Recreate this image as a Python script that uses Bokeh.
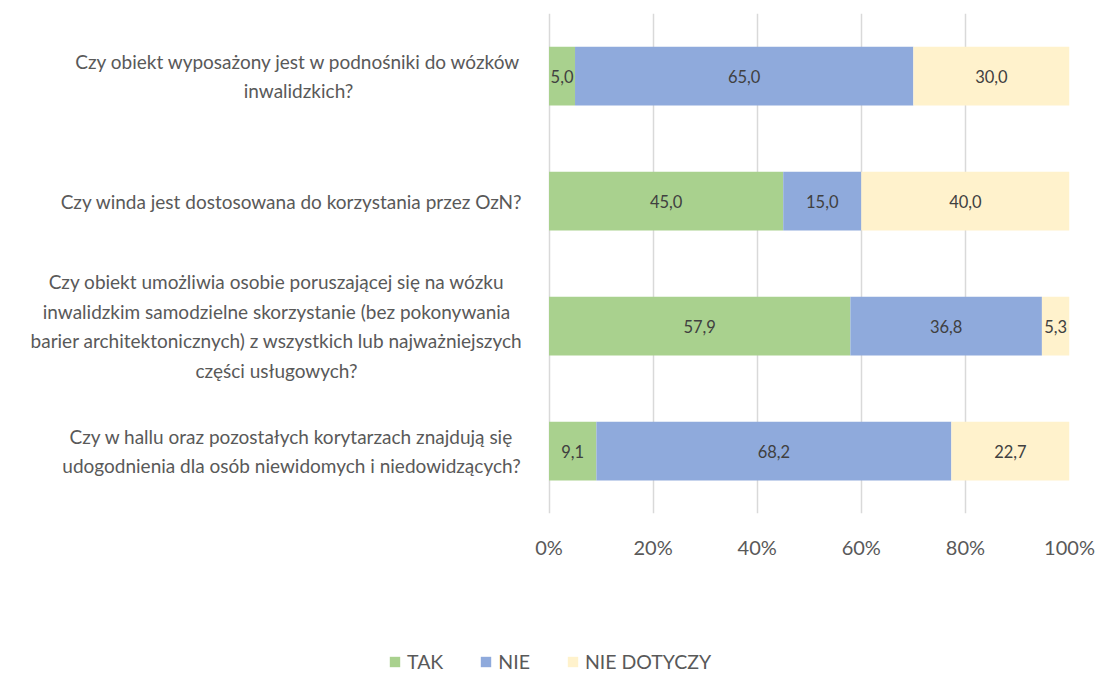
from bokeh.plotting import figure
from bokeh.layouts import column
from bokeh.models import ColumnDataSource, FactorRange, Range1d, FixedTicker, NumeralTickFormatter, Legend, LegendItem, LabelSet
from bokeh.core.properties import value
from bokeh.embed import file_html
from bokeh.resources import INLINE

categories = [
    "Czy obiekt wyposażony jest w podnośniki do wózków\ninwalidzkich?",
    "Czy winda jest dostosowana do korzystania przez OzN?",
    "Czy obiekt umożliwia osobie poruszającej się na wózku\ninwalidzkim samodzielne skorzystanie (bez pokonywania\nbarier architektonicznych) z wszystkich lub najważniejszych\nczęści usługowych?",
    "Czy w hallu oraz pozostałych korytarzach znajdują się\nudogodnienia dla osób niewidomych i niedowidzących?",
]
series_names = ["TAK", "NIE", "NIE DOTYCZY"]
tak = [5.0, 45.0, 57.9, 9.1]
nie = [65.0, 15.0, 36.8, 68.2]
nie_dotyczy = [30.0, 40.0, 5.3, 22.7]
tick_values = [0, 0.2, 0.4, 0.6, 0.8, 1.0]
colors = ["#A9D18E", "#8FAADC", "#FFF2CC"]

# layout / style (screen pixels)
FONT = "Lato"
W = 1099
H_MAIN, H_LEG = 580, 93
FRAME_LEFT = 28
ZERO_PX, FULL_PX = 548.5, 1069.0          # where 0 % and 100 % sit
label_centers_px = [298, 291, 276, 291]   # horizontal centre of each category text block

px_per_unit = FULL_PX - ZERO_PX
x_start = (FRAME_LEFT - ZERO_PX) / px_per_unit

src = ColumnDataSource(dict(
    cat=categories,
    tak=[v / 100 for v in tak],
    nie=[v / 100 for v in nie],
    nd=[v / 100 for v in nie_dotyczy],
    lx=[(c - ZERO_PX) / px_per_unit for c in label_centers_px],
))

p = figure(
    width=W, height=H_MAIN,
    y_range=FactorRange(*reversed(categories), range_padding=0, factor_padding=0),
    x_range=Range1d(x_start, 1),
    output_backend="svg", toolbar_location=None,
    min_border_left=FRAME_LEFT, min_border_right=int(W - FULL_PX), min_border_top=13,
    min_border_bottom=H_MAIN - 513,
)
p.outline_line_color = None

renderers = p.hbar_stack(["tak", "nie", "nd"], y="cat", height=0.47, color=colors,
                         source=src, line_color=None)

# category texts (centred lines, like the original)
p.text(x="lx", y="cat", text="cat", source=src, text_align="center", text_baseline="middle",
       text_font=value(FONT), text_font_size="19px", text_color="#595959", text_line_height=1.28)

# data labels
lab_x, lab_y, lab_t = [], [], []
for i, c in enumerate(categories):
    start = 0.0
    for vals in (tak, nie, nie_dotyczy):
        v = vals[i]
        lab_x.append(start + v / 200)
        lab_y.append(c)
        lab_t.append(f"{v:.1f}".replace(".", ","))
        start += v / 100
lsrc = ColumnDataSource(dict(x=lab_x, y=lab_y, t=lab_t))
labels = LabelSet(x="x", y="y", text="t", source=lsrc, text_align="center", text_baseline="middle",
                  text_font=value(FONT), text_font_size="16.5px", text_color="#404040")
p.add_layout(labels)

# x axis
p.xaxis.ticker = FixedTicker(ticks=tick_values)
p.xaxis.formatter = NumeralTickFormatter(format="0%")
p.xaxis.axis_line_color = None
p.xaxis.major_tick_line_color = None
p.xaxis.minor_tick_line_color = None
p.xaxis.major_label_text_font = FONT
p.xaxis.major_label_text_font_size = "20px"
p.xaxis.major_label_text_color = "#595959"
p.xaxis.major_label_standoff = 15

p.yaxis.visible = False

p.ygrid.grid_line_color = None
p.xgrid.ticker = FixedTicker(ticks=tick_values)
p.xgrid.grid_line_color = "#D9D9D9"
p.xgrid.grid_line_width = 1.5

# legend strip underneath
p2 = figure(
    width=W, height=H_LEG, x_range=Range1d(0, 1), y_range=Range1d(0, 1),
    x_axis_type=None, y_axis_type=None,
    output_backend="svg", toolbar_location=None,
    min_border_left=0, min_border_right=0, min_border_top=0, min_border_bottom=0,
)
p2.outline_line_color = None
p2.xgrid.visible = False
p2.ygrid.visible = False
nan = float("nan")
proxies = [p2.hbar(y=[nan], right=[nan], height=1, color=c, line_color=None) for c in colors]

legend = Legend(
    items=[LegendItem(label=n, renderers=[r]) for n, r in zip(series_names, proxies)],
    orientation="horizontal", location=(360, 0),
    label_text_font=FONT, label_text_font_size="19.5px", label_text_color="#595959",
    glyph_width=13, glyph_height=13, label_standoff=6, spacing=36,
    padding=0, margin=0, border_line_color=None, background_fill_alpha=0,
)
p2.add_layout(legend, "center")

layout = column(p, p2, spacing=0)
open("out.html", "w").write(file_html(layout, INLINE))
